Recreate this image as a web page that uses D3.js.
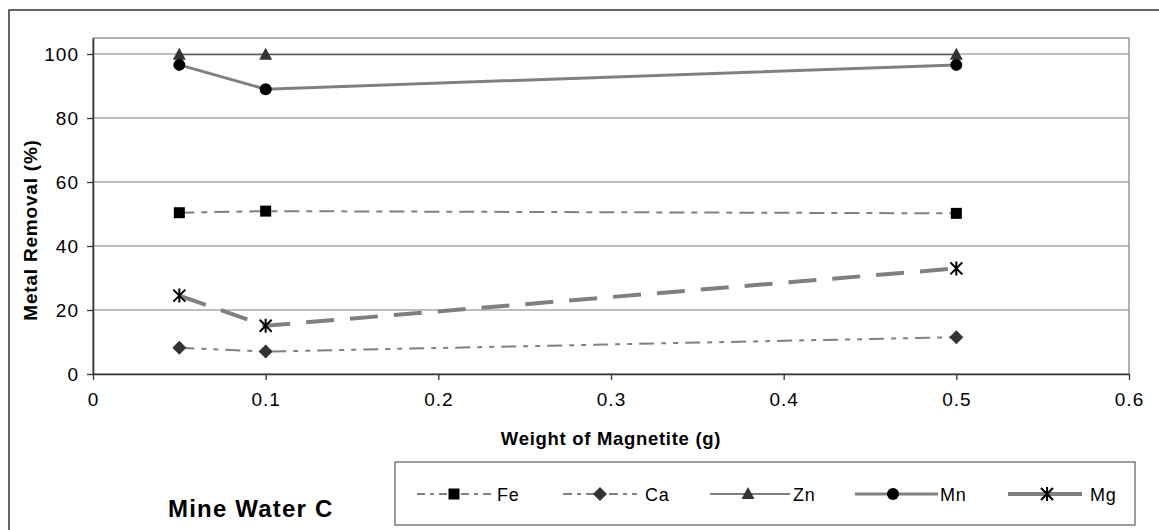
<!DOCTYPE html>
<html>
<head>
<meta charset="utf-8">
<script src="https://cdn.jsdelivr.net/npm/d3@7"></script>
<style>
  body { margin: 0; background: #fff; }
  svg text { font-family: "Liberation Sans", Arial, sans-serif; fill: #000; }
</style>
</head>
<body>
<svg id="chart" width="1159" height="530"></svg>
<script>
// data
const weights = [0.05, 0.1, 0.5];
const fe = [50.4, 50.9, 50.2];
const ca = [8.2, 7.0, 11.5];
const zn = [99.8, 99.8, 99.8];
const mn = [96.6, 89.0, 96.6];
const mg = [24.5, 15.1, 33.0];
const xTicks = [0, 0.1, 0.2, 0.3, 0.4, 0.5, 0.6];
const yTicks = [0, 20, 40, 60, 80, 100];

const series = [
  { name: "Fe", values: fe, color: "#808080", width: 2, dash: "15,7,6,7", marker: "square", lx: 417, lx2: 495, mx: 454, tx: 497, ldash: "8,5,4,5" },
  { name: "Ca", values: ca, color: "#808080", width: 2, dash: "15,7,5,7,5,7", marker: "diamond", lx: 563, lx2: 637, mx: 600, tx: 645, ldash: "9,5,4,5" },
  { name: "Zn", values: zn, color: "#555", width: 1.2, dash: null, marker: "triangle", lx: 710, lx2: 790, mx: 748, tx: 793, ldash: null },
  { name: "Mn", values: mn, color: "#808080", width: 3, dash: null, marker: "circle", lx: 855, lx2: 938, mx: 893, tx: 940, ldash: null },
  { name: "Mg", values: mg, color: "#808080", width: 4, dash: "28,16", marker: "star", lx: 1008, lx2: 1082, mx: 1047, tx: 1090, ldash: null }
];

const svg = d3.select("#chart");
const L = 93, T = 38, R = 1129, B = 374;

const x = d3.scaleLinear().domain([0, 0.6]).range([L, R]);
const y = d3.scaleLinear().domain([0, 105]).range([B, T]);

// outer chart frame (only top and left show)
svg.append("path").attr("d", "M9,545 L9,10 L1170,10")
  .attr("fill", "none").attr("stroke", "#333").attr("stroke-width", 1.5);

// plot border
svg.append("rect").attr("x", L).attr("y", T).attr("width", R - L).attr("height", B - T)
  .attr("fill", "none").attr("stroke", "#808080").attr("stroke-width", 1.2);

// gridlines
svg.append("g").selectAll("line").data(yTicks.filter(d => d > 0)).join("line")
  .attr("x1", L).attr("x2", R).attr("y1", d => y(d)).attr("y2", d => y(d))
  .attr("stroke", "#808080").attr("stroke-width", 1.2);

// axes
const xAxis = svg.append("g").attr("transform", `translate(0,${B})`)
  .call(d3.axisBottom(x).tickValues(xTicks).tickFormat(d3.format("")).tickSize(6).tickSizeOuter(0).tickPadding(8));
const yAxis = svg.append("g").attr("transform", `translate(${L},0)`)
  .call(d3.axisLeft(y).tickValues(yTicks).tickSize(6).tickSizeOuter(0).tickPadding(8));
[xAxis, yAxis].forEach(a => {
  a.attr("font-size", 19).attr("font-family", "'Liberation Sans', Arial, sans-serif");
  a.select(".domain").attr("stroke", "#333").attr("stroke-width", 1.6);
  a.selectAll(".tick line").attr("stroke", "#333").attr("stroke-width", 1.3);
  a.selectAll(".tick text").attr("font-size", 19).attr("letter-spacing", 1).attr("fill", "#000");
});
xAxis.selectAll(".tick text").attr("dy", "0.95em");

// axis titles
svg.append("text").attr("x", (L + R) / 2).attr("y", 445).attr("text-anchor", "middle")
  .attr("font-size", 18.5).attr("font-weight", "bold").attr("letter-spacing", 0.7)
  .text("Weight of Magnetite (g)");
svg.append("text").attr("transform", `translate(37,230) rotate(-90)`)
  .attr("text-anchor", "middle").attr("font-size", 19).attr("font-weight", "bold").attr("letter-spacing", 0.8)
  .text("Metal Removal (%)");

// marker drawing
function drawMarker(g, type, cx, cy) {
  if (type === "square") {
    g.append("rect").attr("x", cx - 5.5).attr("y", cy - 5.5).attr("width", 11).attr("height", 11).attr("fill", "#000");
  } else if (type === "diamond") {
    g.append("path").attr("d", `M${cx},${cy - 7} L${cx + 7},${cy} L${cx},${cy + 7} L${cx - 7},${cy} Z`).attr("fill", "#333");
  } else if (type === "triangle") {
    g.append("path").attr("d", `M${cx},${cy - 7} L${cx + 6.5},${cy + 5} L${cx - 6.5},${cy + 5} Z`).attr("fill", "#333");
  } else if (type === "circle") {
    g.append("circle").attr("cx", cx).attr("cy", cy).attr("r", 6).attr("fill", "#000");
  } else if (type === "star") {
    g.append("path").attr("d", `M${cx - 6},${cy - 6} L${cx + 6},${cy + 6} M${cx + 6},${cy - 6} L${cx - 6},${cy + 6} M${cx},${cy - 7} L${cx},${cy + 7}`)
      .attr("stroke", "#000").attr("stroke-width", 2).attr("fill", "none");
  }
}

// lines and markers
const line = d3.line().x((d, i) => x(weights[i])).y(d => y(d));
series.forEach(s => {
  svg.append("path").datum(s.values).attr("d", line)
    .attr("fill", "none").attr("stroke", s.color).attr("stroke-width", s.width)
    .attr("stroke-dasharray", s.dash);
});
series.forEach(s => {
  const g = svg.append("g");
  s.values.forEach((v, i) => drawMarker(g, s.marker, x(weights[i]), y(v)));
});

// legend
svg.append("rect").attr("x", 395).attr("y", 462).attr("width", 740).attr("height", 63)
  .attr("fill", "#fff").attr("stroke", "#666").attr("stroke-width", 1.3);
const ly = 494;
series.forEach(s => {
  const g = svg.append("g");
  g.append("line").attr("x1", s.lx).attr("x2", s.lx2).attr("y1", ly).attr("y2", ly)
    .attr("stroke", s.color).attr("stroke-width", s.name === "Zn" ? 1.5 : s.width).attr("stroke-dasharray", s.ldash);
  drawMarker(g, s.marker, s.mx, ly);
  g.append("text").attr("x", s.tx).attr("y", ly + 6.5).attr("font-size", 18).attr("letter-spacing", 0.8).text(s.name);
});

// chart label
svg.append("text").attr("x", 168).attr("y", 517).attr("font-size", 24).attr("font-weight", "bold")
  .attr("letter-spacing", 1.2).text("Mine Water C");
</script>
</body>
</html>
